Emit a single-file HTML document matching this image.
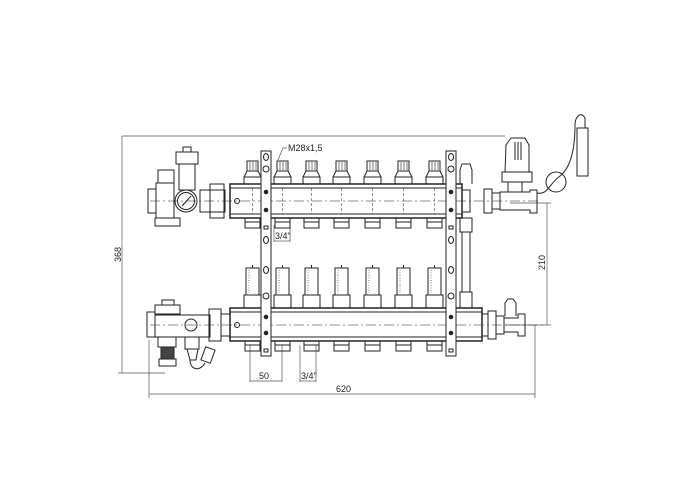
<!DOCTYPE html>
<html><head><meta charset="utf-8"><style>body{margin:0;background:#fff}svg{display:block}</style></head><body>
<svg width="700" height="500" viewBox="0 0 700 500" xmlns="http://www.w3.org/2000/svg" font-family="Liberation Sans, sans-serif">
<g fill="none" stroke="#222" stroke-width="1">
<g stroke="#555" stroke-width="0.7">
<line x1="122" y1="136" x2="505" y2="136"/>
<line x1="122" y1="136" x2="122" y2="373"/>
<line x1="118" y1="373" x2="165" y2="373"/>
<line x1="149" y1="394" x2="535" y2="394"/>
<line x1="149" y1="340" x2="149" y2="398"/>
<line x1="535" y1="325" x2="535" y2="398"/>
<line x1="547" y1="203" x2="547" y2="325"/>
<line x1="510" y1="203" x2="551" y2="203"/>
<line x1="505" y1="325" x2="551" y2="325"/>
<line x1="250" y1="345" x2="250" y2="382"/>
<line x1="282" y1="345" x2="282" y2="382"/>
<line x1="250" y1="381" x2="282" y2="381"/>
<line x1="300" y1="345" x2="300" y2="382"/>
<line x1="316" y1="345" x2="316" y2="382"/>
<line x1="300" y1="381" x2="316" y2="381"/>
<line x1="274" y1="225" x2="274" y2="242"/>
<line x1="290" y1="225" x2="290" y2="242"/>
<line x1="274" y1="241" x2="290" y2="241"/>
<polyline points="278,160 283,148 287,148"/>
</g>
<rect x="230" y="184" width="232" height="34" stroke-width="1.5"/>
<line x1="230" y1="188" x2="462" y2="188"/>
<line x1="230" y1="214" x2="462" y2="214"/>
<line x1="150" y1="201" x2="540" y2="201" stroke-dasharray="10,3,2,3" stroke-width="0.5"/>
<circle cx="237" cy="201" r="2.5"/>
<rect x="230" y="308" width="252" height="33" stroke-width="1.5"/>
<line x1="230" y1="312" x2="482" y2="312"/>
<line x1="230" y1="337" x2="482" y2="337"/>
<line x1="150" y1="325" x2="545" y2="325" stroke-dasharray="10,3,2,3" stroke-width="0.5"/>
<circle cx="237" cy="325" r="2.5"/>
<g id="k">
<path d="M244,184 L244,177 L247,171 L247,161 L258,161 L258,171 L261,177 L261,184 Z"/>
<line x1="247" y1="171" x2="258" y2="171"/>
<line x1="244" y1="177" x2="261" y2="177"/>
<line x1="250" y1="162" x2="250" y2="170" stroke-width="0.6"/>
<line x1="253" y1="162" x2="253" y2="170" stroke-width="0.6"/>
<line x1="256" y1="162" x2="256" y2="170" stroke-width="0.6"/>
<rect x="245" y="218" width="15" height="10"/>
<line x1="245" y1="222" x2="260" y2="222"/>
<line x1="252.5" y1="188" x2="252.5" y2="214" stroke-dasharray="3,2" stroke-width="0.5"/>
</g>
<use href="#k" x="30"/><use href="#k" x="59"/><use href="#k" x="89"/><use href="#k" x="120"/><use href="#k" x="151"/><use href="#k" x="182"/>
<g id="f">
<rect x="246" y="268" width="13" height="27"/>
<line x1="249" y1="270" x2="249" y2="293" stroke-dasharray="1,1.5" stroke-width="0.6"/>
<rect x="244" y="295" width="17" height="13"/>
<line x1="252.5" y1="265" x2="252.5" y2="268"/>
<rect x="245" y="341" width="15" height="10"/>
<line x1="245" y1="345" x2="260" y2="345"/>
</g>
<use href="#f" x="30"/><use href="#f" x="59"/><use href="#f" x="89"/><use href="#f" x="120"/><use href="#f" x="151"/><use href="#f" x="182"/>
<g id="b" fill="#fff">
<rect x="261" y="151" width="10" height="205"/>
<ellipse cx="266" cy="157" rx="2.5" ry="3.5"/>
<ellipse cx="266" cy="240" rx="2.5" ry="3.5"/>
<ellipse cx="266" cy="270" rx="2.5" ry="3.5"/>
<circle cx="266" cy="169" r="3"/>
<circle cx="266" cy="296" r="3"/>
<circle cx="266" cy="192" r="1.8" fill="#222"/>
<circle cx="266" cy="210" r="1.8" fill="#222"/>
<circle cx="266" cy="317" r="1.8" fill="#222"/>
<circle cx="266" cy="333" r="1.8" fill="#222"/>
<rect x="264" y="226" width="4" height="3"/>
<rect x="264" y="349" width="4" height="3"/>
</g>
<use href="#b" x="185"/>
<path d="M460,184 L460,170 L462,164 L470,164 L472,170 L472,184"/>
<rect x="460" y="218" width="12" height="14"/>
<rect x="462" y="232" width="8" height="60"/>
<rect x="460" y="292" width="12" height="16"/>
<rect x="462" y="190" width="8" height="22"/>
<rect x="484" y="189" width="8" height="24"/>
<rect x="492" y="193" width="8" height="16"/>
<path d="M500,192 L530,192 L530,190 L537,190 L537,213 L530,213 L530,210 L500,210 Z"/>
<rect x="508" y="182" width="14" height="10"/>
<rect x="502" y="172" width="30" height="10"/>
<path d="M505,172 L506,145 L511,138 L525,138 L529,145 L529,172"/>
<line x1="515" y1="142" x2="515" y2="160"/>
<line x1="518" y1="142" x2="518" y2="160"/>
<line x1="521" y1="142" x2="521" y2="160"/>
<path d="M537,193 C548,195 548,185 560,176 C570,168 575,150 575,125 C575,118 580,110 585,118 L585,128"/>
<circle cx="556" cy="182" r="10"/>
<rect x="577" y="128" width="11" height="48"/>
<rect x="482" y="314" width="6" height="22"/>
<rect x="488" y="311" width="8" height="28"/>
<rect x="496" y="316" width="8" height="18"/>
<path d="M504,318 L518,318 L518,314 L525,314 L525,336 L518,336 L518,332 L504,332 Z"/>
<path d="M505,316 L505,303 L508,299 L513,299 L516,303 L516,316"/>
<rect x="200" y="190" width="25" height="22"/>
<rect x="210" y="184" width="14" height="34"/>
<circle cx="186" cy="201" r="11"/>
<circle cx="186" cy="201" r="8.5"/>
<line x1="182" y1="206" x2="191" y2="196"/>
<rect x="148" y="189" width="8" height="24"/>
<rect x="156" y="183" width="18" height="35"/>
<rect x="155" y="218" width="25" height="8"/>
<rect x="158" y="170" width="16" height="13"/>
<rect x="179" y="164" width="16" height="26"/>
<rect x="176" y="152" width="22" height="12"/>
<rect x="183" y="147" width="8" height="5"/>
<rect x="147" y="312" width="8" height="25"/>
<rect x="155" y="315" width="55" height="22"/>
<circle cx="191" cy="325" r="6"/>
<rect x="209" y="309" width="12" height="32"/>
<rect x="221" y="314" width="9" height="22"/>
<rect x="155" y="305" width="25" height="9"/>
<rect x="162" y="300" width="12" height="5"/>
<rect x="158" y="337" width="18" height="10"/>
<rect x="161" y="347" width="13" height="12" fill="#444"/>
<rect x="159" y="359" width="17" height="7"/>
<rect x="185" y="337" width="14" height="12"/>
<path d="M187,349 L190,360 L196,360 L198,349"/>
<rect x="203" y="348" width="10" height="14" transform="rotate(20 208 355)"/>
<path d="M190,360 C190,370 200,372 205,363"/>
</g>
<g fill="#222" font-size="9">
<text x="288" y="151">M28x1,5</text>
<text x="275" y="239">3/4"</text>
<text x="259" y="379">50</text>
<text x="301" y="379">3/4"</text>
<text x="336" y="392">620</text>
<text transform="translate(121,262) rotate(-90)">368</text>
<text transform="translate(545,270) rotate(-90)">210</text>
</g>
</svg>
</body></html>
